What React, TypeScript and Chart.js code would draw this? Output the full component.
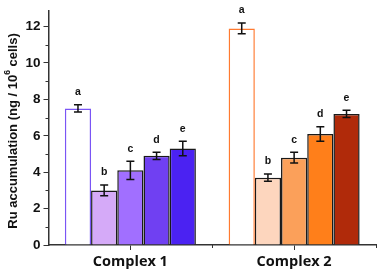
import React, { useEffect, useRef } from "react";
import { Chart, registerables } from "chart.js";

Chart.register(...registerables);

const categories = ["Complex 1", "Complex 2"];
const seriesLetters = ["a", "b", "c", "d", "e"];
// values per series: [Complex 1, Complex 2]
const valuesA = [7.5, 11.9];
const valuesB = [3.0, 3.7];
const valuesC = [4.1, 4.8];
const valuesD = [4.9, 6.1];
const valuesE = [5.3, 7.2];
const errorsA = [0.2, 0.3];
const errorsB = [0.3, 0.2];
const errorsC = [0.5, 0.3];
const errorsD = [0.2, 0.4];
const errorsE = [0.4, 0.2];
const yTickValues = [0, 2, 4, 6, 8, 10, 12];

const seriesValues = [valuesA, valuesB, valuesC, valuesD, valuesE];
const seriesErrors = [errorsA, errorsB, errorsC, errorsD, errorsE];

const fillColors = [
  ["#ffffff", "#ffffff"],
  ["#d5aaf8", "#fdd6be"],
  ["#a16fff", "#fba05a"],
  ["#7040f2", "#ff7f1a"],
  ["#4b22f2", "#b02a0a"],
];
const borderColors = [
  ["#7a55f5", "#ff7a30"],
  ["#1a1a1a", "#1a1a1a"],
  ["#1a1a1a", "#1a1a1a"],
  ["#1a1a1a", "#1a1a1a"],
  ["#1a1a1a", "#1a1a1a"],
];

const AXIS_COLOR = "#333333";

const overlayPlugin = {
  id: "overlay",
  afterDatasetsDraw(chart: any) {
    const ctx = chart.ctx;
    const y = chart.scales.y;
    const x = chart.scales.x;
    ctx.save();
    // error bars and letters
    chart.data.datasets.forEach((ds: any, di: number) => {
      const meta = chart.getDatasetMeta(di);
      meta.data.forEach((bar: any, i: number) => {
        const v = seriesValues[di][i];
        const e = seriesErrors[di][i];
        const cx = bar.x;
        const yt = y.getPixelForValue(v + e);
        const yb = y.getPixelForValue(v - e);
        ctx.strokeStyle = "#111";
        ctx.lineWidth = 1.5;
        ctx.beginPath();
        ctx.moveTo(cx, yt);
        ctx.lineTo(cx, yb);
        ctx.moveTo(cx - 4, yt);
        ctx.lineTo(cx + 4, yt);
        ctx.moveTo(cx - 4, yb);
        ctx.lineTo(cx + 4, yb);
        ctx.stroke();
        ctx.fillStyle = "#111";
        ctx.font = "bold 10.5px 'Liberation Sans', Arial, sans-serif";
        ctx.textAlign = "center";
        ctx.textBaseline = "middle";
        ctx.fillText(seriesLetters[di], cx, yt - 12.5);
      });
    });
    // minor y ticks
    ctx.strokeStyle = AXIS_COLOR;
    ctx.lineWidth = 1;
    for (let v = 1; v <= 12; v += 2) {
      const py = Math.round(y.getPixelForValue(v)) + 0.5;
      ctx.beginPath();
      ctx.moveTo(y.right - 3, py);
      ctx.lineTo(y.right, py);
      ctx.stroke();
    }
    // x boundary ticks
    const half = (x.getPixelForValue(1) - x.getPixelForValue(0)) / 2;
    [x.getPixelForValue(0) + half, x.getPixelForValue(1) + half].forEach((px: number) => {
      ctx.beginPath();
      ctx.moveTo(Math.round(px) + 0.5, x.top);
      ctx.lineTo(Math.round(px) + 0.5, x.top + 3);
      ctx.stroke();
    });
    // y title
    ctx.fillStyle = "#111";
    ctx.translate(13, 131);
    ctx.rotate(-Math.PI / 2);
    ctx.textBaseline = "middle";
    ctx.textAlign = "left";
    const f1 = "bold 13px 'Liberation Sans', Arial, sans-serif";
    const f2 = "bold 8.5px 'Liberation Sans', Arial, sans-serif";
    const p1 = "Ru accumulation (ng / 10";
    const p2 = "6";
    const p3 = " cells)";
    ctx.font = f1;
    const w1 = ctx.measureText(p1).width;
    const w3 = ctx.measureText(p3).width;
    ctx.font = f2;
    const w2 = ctx.measureText(p2).width;
    const total = w1 + w2 + w3;
    let sx = -total / 2;
    ctx.font = f1;
    ctx.fillText(p1, sx, 0);
    sx += w1;
    ctx.font = f2;
    ctx.fillText(p2, sx, -5);
    sx += w2;
    ctx.font = f1;
    ctx.fillText(p3, sx, 0);
    ctx.restore();
  },
};

export default function App() {
  const ref = useRef<HTMLCanvasElement | null>(null);
  useEffect(() => {
    if (!ref.current) return;
    const chart = new Chart(ref.current, {
      type: "bar",
      data: {
        labels: categories,
        datasets: seriesValues.map((vals, di) => ({
          label: seriesLetters[di],
          data: vals,
          backgroundColor: fillColors[di],
          borderColor: borderColors[di],
          borderWidth: 1.5,
          borderSkipped: "bottom",
          categoryPercentage: 0.8,
          barPercentage: 1.0,
        })),
      },
      options: {
        animation: false,
        responsive: false,
        maintainAspectRatio: false,
        layout: { padding: { top: 2, right: 2, left: 0, bottom: 0 } },
        plugins: {
          legend: { display: false },
          tooltip: { enabled: false },
        },
        scales: {
          x: {
            offset: true,
            grid: {
              offset: false,
              drawOnChartArea: false,
              drawTicks: true,
              tickLength: 5,
              tickColor: AXIS_COLOR,
              tickWidth: 1,
            },
            border: { color: AXIS_COLOR, width: 1.5 },
            ticks: {
              color: "#111",
              font: { family: "'Open Sans', sans-serif", size: 14.5, weight: "bold" },
              padding: 3,
            },
            afterFit(scale: any) {
              scale.height = 30;
            },
          },
          y: {
            min: 0,
            max: 12.85,
            afterBuildTicks(scale: any) {
              scale.ticks = yTickValues.map((v) => ({ value: v }));
            },
            grid: {
              drawOnChartArea: false,
              tickLength: 5,
              tickColor: AXIS_COLOR,
              tickWidth: 1,
            },
            border: { color: AXIS_COLOR, width: 1.5 },
            ticks: {
              color: "#111",
              font: { family: "'Liberation Sans', Arial, sans-serif", size: 13.5, weight: "bold" },
              padding: 3,
            },
            afterFit(scale: any) {
              scale.width = 48.5;
            },
          },
        },
      },
      plugins: [overlayPlugin],
    } as any);
    return () => chart.destroy();
  }, []);
  return (
    <div style={{ position: "fixed", left: 0, top: 0, width: 378, height: 275, background: "#fff" }}>
      <canvas ref={ref} width={378} height={275} style={{ width: 378, height: 275 }} />
    </div>
  );
}
